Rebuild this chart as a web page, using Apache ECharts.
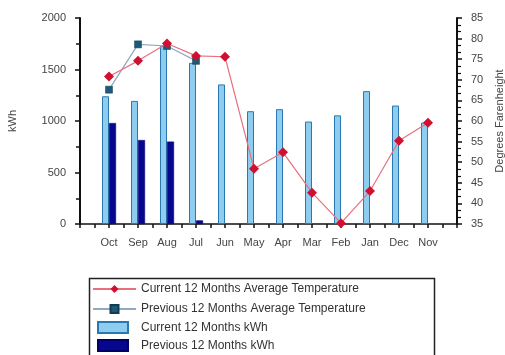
<!DOCTYPE html>
<html><head><meta charset="utf-8">
<script src="https://cdn.jsdelivr.net/npm/echarts@6/dist/echarts.min.js"></script>
<style>html,body{margin:0;padding:0;background:#fff}#c{width:505px;height:355px}</style>
</head><body><div id="c"></div>
<script>
const months = ['Oct','Sep','Aug','Jul','Jun','May','Apr','Mar','Feb','Jan','Dec','Nov'];
const currentKwh = [1240, 1195, 1730, 1565, 1355, 1095, 1115, 995, 1055, 1290, 1150, 985];
const previousKwh = [980, 815, 800, 35];
const currentTemp = [70.8, 74.6, 78.8, 75.8, 75.6, 48.4, 52.4, 42.6, 35.2, 43.0, 55.2, 59.6];
const previousTemp = [67.6, 78.6, 78.2, 74.6];
const kwhTicks = {min: 0, max: 2000, interval: 500};
const tempTicks = {min: 35, max: 85, interval: 5};

const idx = arr => arr.map((v, i) => [i, v]);
const axisTxt = {color: '#444', fontSize: 11, fontFamily: 'Liberation Sans'};

const chart = echarts.init(document.getElementById('c'), null, {renderer: 'canvas'});
chart.setOption({
  animation: false,
  backgroundColor: '#fff',
  grid: {left: 80, right: 48, top: 18, bottom: 131, containLabel: false, outerBoundsMode: 'none'},
  xAxis: {
    type: 'value', min: -1, max: 12, interval: 0.5,
    axisLine: {show: true, onZero: false, lineStyle: {color: '#111', width: 1.5}},
    axisTick: {show: true, length: 4, lineStyle: {color: '#111', width: 1.5}},
    splitLine: {show: false},
    axisLabel: Object.assign({margin: 13, formatter: v => (Number.isInteger(v) && v >= 0 && v < months.length) ? months[v] : ''}, axisTxt)
  },
  yAxis: [{
    type: 'value', min: kwhTicks.min, max: kwhTicks.max, interval: kwhTicks.interval,
    name: 'kWh', nameLocation: 'middle', nameGap: 62, nameRotate: 90,
    nameTextStyle: axisTxt,
    axisLine: {show: true, onZero: false, lineStyle: {color: '#111', width: 2}},
    axisTick: {show: true, length: 5, lineStyle: {color: '#111', width: 1.5}},
    minorTick: {show: true, splitNumber: 2, length: 4, lineStyle: {color: '#111', width: 1.5}},
    splitLine: {show: false},
    axisLabel: Object.assign({margin: 14, formatter: v => String(v)}, axisTxt)
  }, {
    type: 'value', position: 'right', min: tempTicks.min, max: tempTicks.max, interval: tempTicks.interval,
    name: 'Degrees Farenheight', nameLocation: 'middle', nameGap: 36, nameRotate: 90,
    nameTextStyle: axisTxt,
    axisLine: {show: true, onZero: false, lineStyle: {color: '#111', width: 2}},
    axisTick: {show: true, length: 5, lineStyle: {color: '#111', width: 1.5}},
    minorTick: {show: true, splitNumber: 3, length: 4, lineStyle: {color: '#111', width: 1.2}},
    splitLine: {show: false},
    axisLabel: Object.assign({margin: 14, formatter: v => String(v)}, axisTxt)
  }],
  graphic: [{
    type: 'rect', left: 87, top: 276, silent: true,
    shape: {width: 345, height: 78},
    style: {fill: 'none', stroke: '#222', lineWidth: 1.5}
  }],
  legend: [{
    orient: 'vertical', left: 88, top: 283,
    padding: [0, 0, 0, 4], itemGap: 8, itemWidth: 43, itemHeight: 10,
    textStyle: {color: '#333', fontSize: 12, fontFamily: 'Liberation Sans'},
    data: ['Current 12 Months Average Temperature', 'Previous 12 Months Average Temperature']
  }, {
    orient: 'vertical', left: 97, top: 321,
    padding: 0, itemGap: 5, itemWidth: 30, itemHeight: 11,
    textStyle: {color: '#333', fontSize: 12, fontFamily: 'Liberation Sans', padding: [0, 0, 0, 8]},
    data: [{name: 'Current 12 Months kWh', icon: 'rect'}, {name: 'Previous 12 Months kWh', icon: 'rect'}]
  }],
  series: [{
    name: 'Current 12 Months kWh', type: 'bar', xAxisIndex: 0, yAxisIndex: 0,
    barWidth: 7, barGap: '0%',
    itemStyle: {color: '#8fcdf0', borderColor: '#2a78b0', borderWidth: 1},
    data: idx(currentKwh)
  }, {
    name: 'Previous 12 Months kWh', type: 'bar', xAxisIndex: 0, yAxisIndex: 0,
    barWidth: 7, barGap: '0%',
    itemStyle: {color: '#06068e', borderColor: '#000066', borderWidth: 0.5},
    data: idx(previousKwh)
  }, {
    name: 'Previous 12 Months Average Temperature', type: 'line', yAxisIndex: 1,
    symbol: 'rect', symbolSize: 7,
    lineStyle: {color: '#90a8c0', width: 1.2},
    itemStyle: {color: '#1d5a78', borderColor: '#123c52', borderWidth: 0.5},
    data: idx(previousTemp), z: 3
  }, {
    name: 'Current 12 Months Average Temperature', type: 'line', yAxisIndex: 1,
    symbol: 'diamond', symbolSize: 10,
    lineStyle: {color: '#e8707e', width: 1.2},
    itemStyle: {color: '#d0102e'},
    data: idx(currentTemp), z: 4
  }]
});
</script></body></html>
